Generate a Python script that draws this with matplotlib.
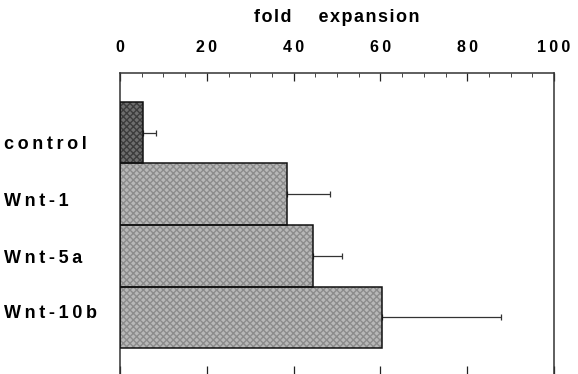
import numpy as np
import matplotlib.pyplot as plt
from matplotlib.ticker import MultipleLocator
import matplotlib.transforms as mtransforms

## Data
groups = ['control', 'Wnt-1', 'Wnt-5a', 'Wnt-10b']
fold = [5.2, 38.5, 44.5, 60.4]
err = [3.0, 10.0, 6.7, 27.4]
xticks = [0, 20, 40, 60, 80, 100]

plt.rcParams['font.family'] = ['Liberation Sans', 'DejaVu Sans']
plt.rcParams['font.weight'] = 'bold'

def spaced(s, sep='\u2009'):
    # wide letter spacing as in the original
    return sep.join(s)

fig = plt.figure(figsize=(5.78, 3.74), dpi=100)
ax = fig.add_axes([120/578, 0.0, 434/578, 301/374])

# top row is control, bottom Wnt-10b
ypos = np.arange(len(groups))[::-1]
colors = ['#6e6e6e', '#b8b8b8', '#b8b8b8', '#b8b8b8']
hatchcol = ['#3c3c3c', '#8c8c8c', '#8c8c8c', '#8c8c8c']

for y, v, c, hc in zip(ypos, fold, colors, hatchcol):
    ax.barh(y, v, height=1.0, color=c, edgecolor=hc, hatch='xxxxx', linewidth=0, zorder=2)
ax.barh(ypos, fold, height=1.0, facecolor='none', edgecolor='#111111', linewidth=1.1, zorder=3)

ax.errorbar(fold, ypos, xerr=[np.zeros(len(err)), err], fmt='none',
            ecolor='#333333', elinewidth=0.9, capsize=2.5, capthick=0.9, zorder=1)

ax.set_xlim(0, 100)
ax.set_ylim(-0.92, 3.97)
ax.set_yticks([])

ax.xaxis.set_major_locator(MultipleLocator(20))
ax.xaxis.set_minor_locator(MultipleLocator(5))
ax.tick_params(axis='x', which='major', direction='in', top=True, bottom=True,
               labeltop=True, labelbottom=False, length=6, width=0.9, pad=13, color='#222222')
ax.tick_params(axis='x', which='minor', direction='in', top=True, bottom=False,
               length=3, width=0.7, color='#444444')
ax.set_xticks(xticks)
ax.set_xticklabels([spaced(str(t)) for t in xticks], fontsize=11.5, fontweight='bold')

for side in ('top', 'left', 'right'):
    ax.spines[side].set_linewidth(1.1)
    ax.spines[side].set_color('#333333')
ax.spines['bottom'].set_visible(False)

# group labels, left aligned near the figure edge (small vertical offsets as in the scan)
label_shift = [-0.19, -0.12, -0.05, 0.06]
trans = mtransforms.blended_transform_factory(fig.transFigure, ax.transData)
for y, g, s in zip(ypos, groups, label_shift):
    ax.text(4/578, y + s, spaced(g), transform=trans, ha='left', va='center',
            fontsize=13, fontweight='bold')

fig.text(337/578, 1 - 18/374, spaced('fold', '\u200a') + '\u2003\u2002' + spaced('expansion', '\u200a'),
         ha='center', va='center', fontsize=13, fontweight='bold')

plt.savefig('out.png', dpi=100)
plt.close('all')
